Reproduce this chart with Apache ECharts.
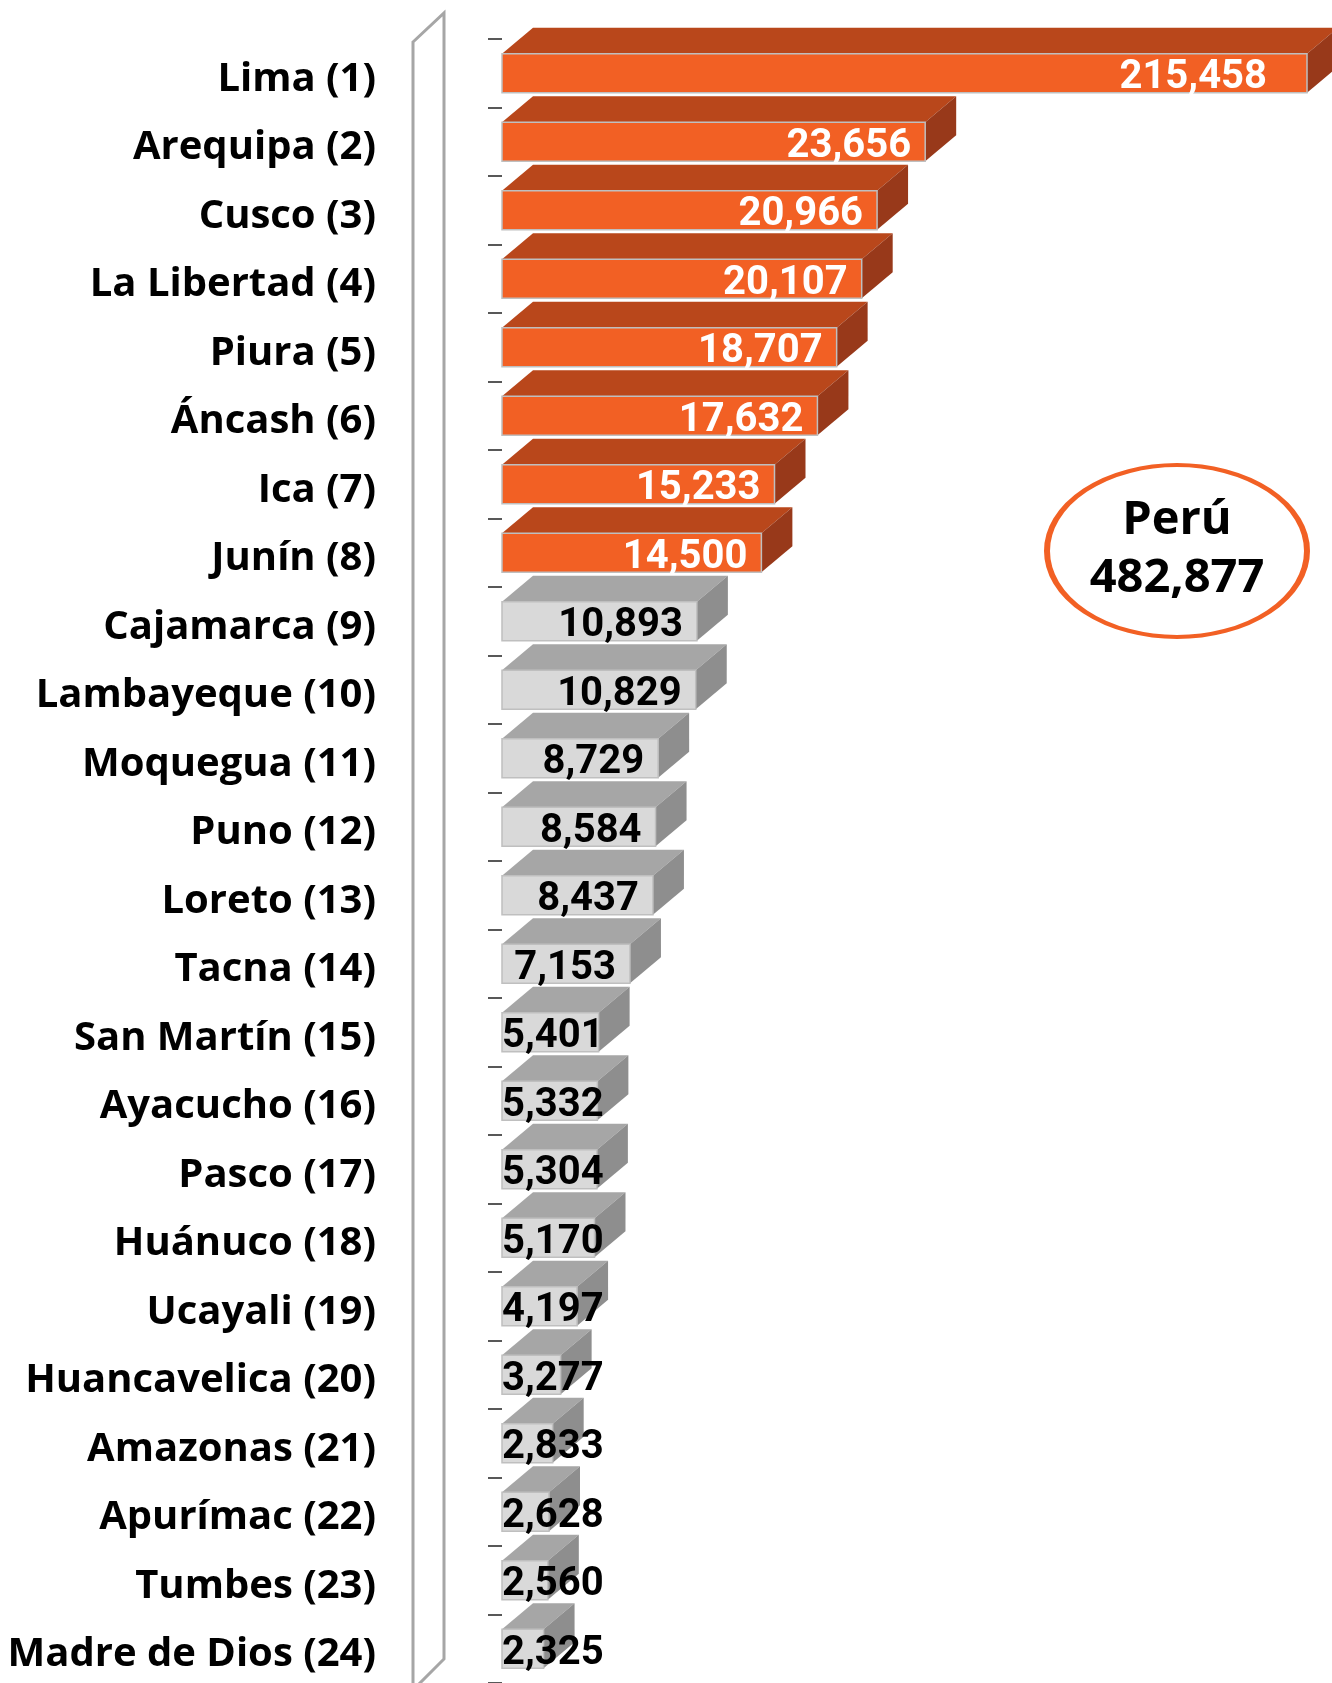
<!DOCTYPE html>
<html>
<head>
<meta charset="utf-8">
<script src="https://cdn.jsdelivr.net/npm/echarts@6.0.0/dist/echarts.min.js"></script>
<style>
  html, body { margin: 0; padding: 0; background: #fff; }
  #chart { width: 1332px; height: 1683px; }
</style>
</head>
<body>
<div id="chart"></div>
<script>
const regiones = [
  'Lima (1)', 'Arequipa (2)', 'Cusco (3)', 'La Libertad (4)', 'Piura (5)', 'Áncash (6)',
  'Ica (7)', 'Junín (8)', 'Cajamarca (9)', 'Lambayeque (10)', 'Moquegua (11)', 'Puno (12)',
  'Loreto (13)', 'Tacna (14)', 'San Martín (15)', 'Ayacucho (16)', 'Pasco (17)', 'Huánuco (18)',
  'Ucayali (19)', 'Huancavelica (20)', 'Amazonas (21)', 'Apurímac (22)', 'Tumbes (23)', 'Madre de Dios (24)'
]
const valores = [
  215458, 23656, 20966, 20107, 18707, 17632, 15233, 14500, 10893, 10829, 8729, 8584,
  8437, 7153, 5401, 5332, 5304, 5170, 4197, 3277, 2833, 2628, 2560, 2325
]
const nDestacados = 8
const totalTitulo = 'Perú'
const totalValor = '482,877'

const X_MAX = 45000
const NARANJA = { front: '#F26024', top: '#B9471B', side: '#98391A', text: '#FFFFFF' }
const GRIS = { front: '#D9D9D9', top: '#A6A6A6', side: '#8E8E8E', text: '#000000' }
const fuenteValor = { family: 'Roboto', size: 40, weight: 'bold' }

// para medir el ancho de las etiquetas
const ctx = document.createElement('canvas').getContext('2d')
ctx.font = `${fuenteValor.weight} ${fuenteValor.size}px ${fuenteValor.family}`

const chart = echarts.init(document.getElementById('chart'), null, { renderer: 'canvas' })

function renderBar(params, api) {
  const idx = api.value(1)
  const raw = api.value(0)
  const p0 = api.coord([0, idx])
  const p1 = api.coord([Math.min(raw, X_MAX), idx])
  const h = 39, dx = 31, dy = 26
  const x0 = p0[0], x1 = p1[0]
  const yT = p0[1] - h / 2, yB = p0[1] + h / 2
  const pal = idx < nDestacados ? NARANJA : GRIS

  const txt = raw.toLocaleString('en-US')
  const w = ctx.measureText(txt).width
  const inset = raw > X_MAX ? 40 : 14
  const xr = Math.max(x1 - inset, x0 + w)

  return {
    type: 'group',
    children: [
      {
        type: 'polygon',
        shape: { points: [[x0, yT], [x1, yT], [x1 + dx, yT - dy], [x0 + dx, yT - dy]] },
        style: { fill: pal.top }
      },
      {
        type: 'polygon',
        shape: { points: [[x1, yT], [x1 + dx, yT - dy], [x1 + dx, yB - dy], [x1, yB]] },
        style: { fill: pal.side }
      },
      {
        type: 'rect',
        shape: { x: x0, y: yT, width: x1 - x0, height: h },
        style: { fill: pal.front, stroke: '#BFBFBF', lineWidth: 1.5 }
      },
      {
        type: 'text',
        x: xr,
        y: p0[1] + 5,
        style: {
          text: txt,
          align: 'right',
          verticalAlign: 'middle',
          fill: pal.text,
          fontFamily: fuenteValor.family,
          fontSize: fuenteValor.size,
          fontWeight: fuenteValor.weight
        }
      }
    ]
  }
}

const option = {
  backgroundColor: '#fff',
  animation: false,
  grid: { left: 502, top: 39, width: 805, height: 1650 },
  xAxis: {
    type: 'value',
    min: 0,
    max: X_MAX,
    show: false
  },
  yAxis: {
    type: 'category',
    inverse: true,
    data: regiones,
    axisLine: { show: false },
    axisTick: { show: true, length: 14, lineStyle: { color: '#222', width: 1.5 } },
    axisLabel: {
      margin: 126,
      verticalAlign: 'top',
      lineHeight: 12,
      color: '#000',
      fontFamily: 'Open Sans',
      fontWeight: 'bold',
      fontSize: 40
    }
  },
  graphic: [
    {
      type: 'polygon',
      shape: { points: [[413, 42], [444, 13], [444, 1659], [413, 1690]] },
      style: { fill: 'none', stroke: '#A6A6A6', lineWidth: 3 }
    },
    {
      type: 'circle',
      x: 1177, y: 551,
      scaleY: 86 / 130,
      shape: { cx: 0, cy: 0, r: 130 },
      style: { fill: '#fff', stroke: NARANJA.front, lineWidth: 6, strokeNoScale: true }
    },
    {
      type: 'text',
      x: 1177, y: 521,
      style: {
        text: totalTitulo, align: 'center', verticalAlign: 'middle',
        fill: '#000', fontFamily: 'Open Sans', fontWeight: 'bold', fontSize: 47
      }
    },
    {
      type: 'text',
      x: 1177, y: 579,
      style: {
        text: totalValor, align: 'center', verticalAlign: 'middle',
        fill: '#000', fontFamily: 'Open Sans', fontWeight: 'bold', fontSize: 47
      }
    }
  ],
  series: [{
    type: 'custom',
    clip: false,
    encode: { x: 0, y: 1 },
    data: valores.map((v, i) => [v, i]),
    renderItem: renderBar
  }]
}

chart.setOption(option)
</script>
</body>
</html>
